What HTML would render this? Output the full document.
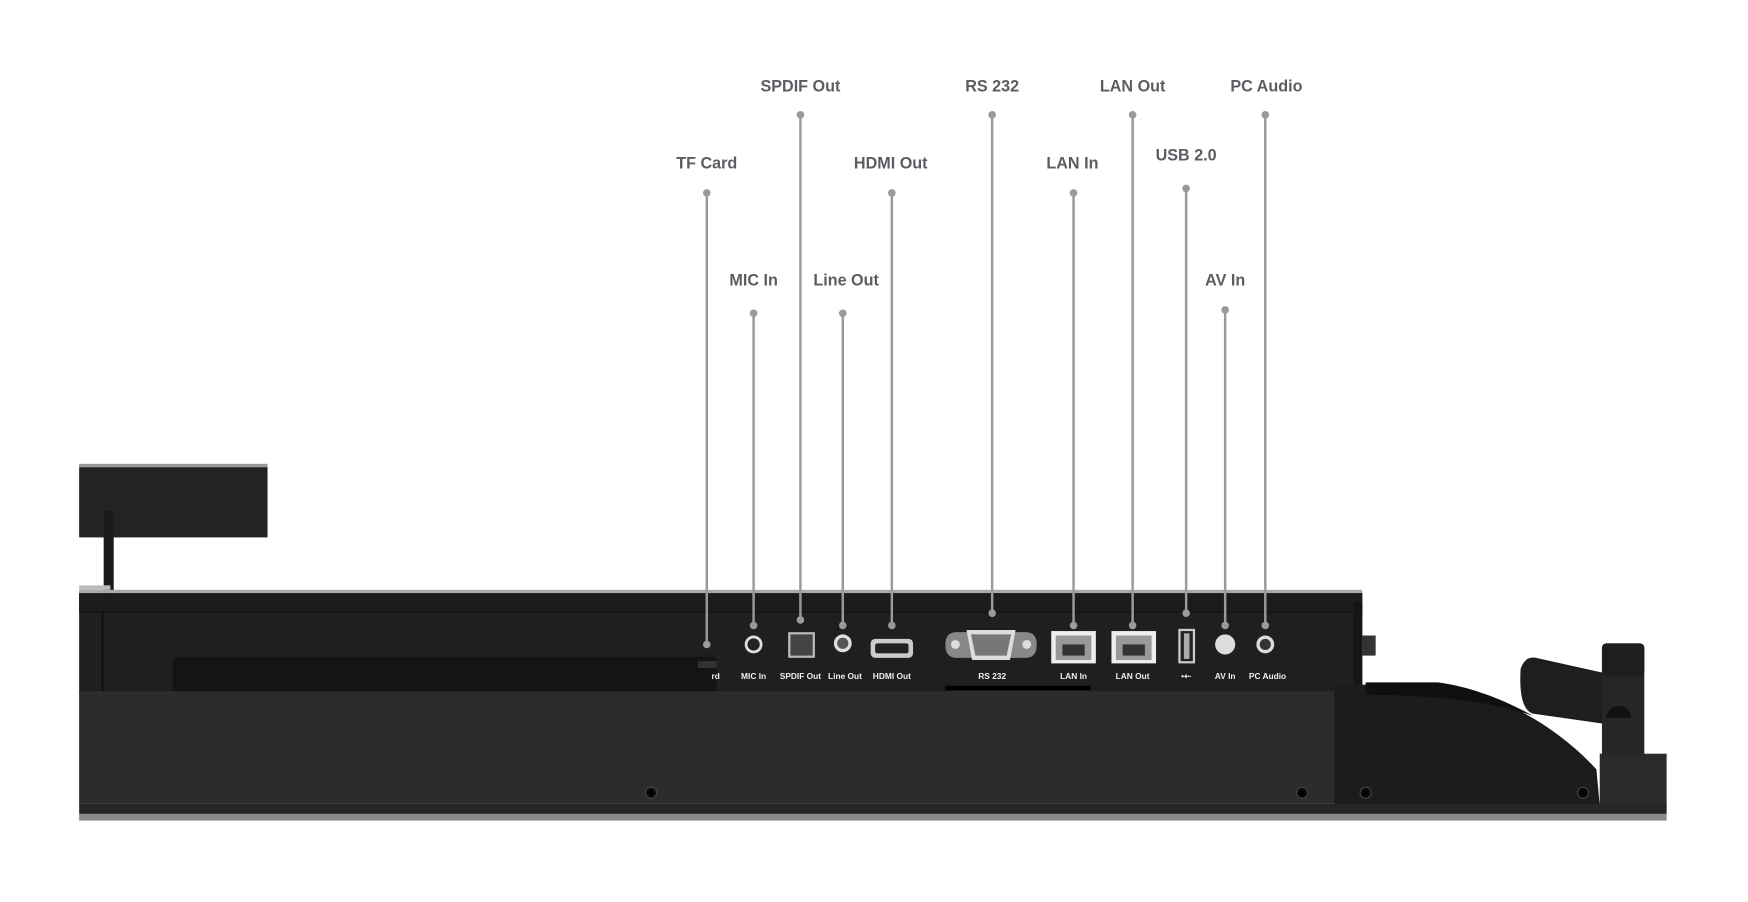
<!DOCTYPE html>
<html><head><meta charset="utf-8"><style>
html,body{margin:0;padding:0;background:#fff;width:1748px;height:902px;overflow:hidden}
svg{display:block}
.lb{font-family:"Liberation Sans",sans-serif;font-weight:bold;font-size:14.5px;fill:#5c5c62;text-anchor:middle}
.pl{font-family:"Liberation Sans",sans-serif;font-weight:bold;font-size:7.5px;fill:#eee;text-anchor:middle}
.ln{stroke:#9a9a9a;stroke-width:2.2}
.dt{fill:#9a9a9a}
</style></head><body>
<svg width="1748" height="902" viewBox="0 0 1568 809" preserveAspectRatio="none" xmlns="http://www.w3.org/2000/svg">
<rect x="71" y="416" width="169" height="3" fill="#999"/>
<rect x="71" y="419" width="169" height="63" fill="#232323"/>
<rect x="93" y="458" width="9" height="74" fill="#1a1a1a"/>
<rect x="71" y="525" width="28" height="4" fill="#bbb"/>
<rect x="71" y="529" width="1151" height="3" fill="#aaa"/>
<rect x="71" y="532" width="1151" height="90" fill="#1f1f1f"/>
<rect x="71" y="532" width="1151" height="17" fill="#1c1c1c"/>
<line x1="71" y1="549" x2="1222" y2="549" stroke="#111" stroke-width="1"/>
<line x1="92" y1="549" x2="92" y2="620" stroke="#0c0c0c" stroke-width="1.5"/>
<rect x="155" y="589" width="488" height="32" rx="3" fill="#141414"/>
<rect x="848" y="615" width="130" height="4" fill="#000"/>
<rect x="1214" y="540" width="8" height="80" fill="#151515"/>
<rect x="1222" y="570" width="12" height="18" fill="#333"/>
<rect x="71" y="620" width="1130" height="101" fill="#2c2c2c"/>
<!-- stand arm (behind) -->
<path d="M1364 600 Q1368 588 1378 590 L1445 605 L1445 650 L1375 640 Q1362 636 1364 600 Z" fill="#1e1e1e"/>
<!-- right housing -->
<path d="M1197 614 L1290 614 C1345 622 1395 650 1432 690 L1435 722 L1197 722 Z" fill="#1c1c1c"/>
<path d="M1225 612 L1290 612 C1320 616 1350 628 1375 642 C1340 630 1300 624 1225 623 Z" fill="#0f0f0f"/>
<rect x="1437" y="577" width="38" height="108" rx="4" fill="#262626"/>
<rect x="1437" y="577" width="38" height="30" rx="4" fill="#1e1e1e"/>
<path d="M1441 644 A11 11 0 0 1 1463 644 Z" fill="#111"/>
<rect x="1435" y="676" width="60" height="47" fill="#2a2a2a"/>
<rect x="71" y="721" width="1424" height="9" fill="#252525"/>
<rect x="71" y="730" width="1424" height="6" fill="#8a8a8a"/>
<g fill="#0a0a0a" stroke="#444" stroke-width="1">
<circle cx="584" cy="711" r="5"/><circle cx="1168" cy="711" r="5"/><circle cx="1225" cy="711" r="5"/><circle cx="1420" cy="711" r="5"/>
</g>
<g fill="#000"><circle cx="584" cy="711" r="2"/><circle cx="1168" cy="711" r="2"/><circle cx="1225" cy="711" r="2"/><circle cx="1420" cy="711" r="2"/></g>
<circle cx="676" cy="578" r="8" fill="#ddd"/><circle cx="676" cy="578" r="5.5" fill="#222"/>
<rect x="707" y="567" width="24" height="23" fill="#bbb"/><rect x="709" y="569" width="20" height="19" fill="#444"/>
<circle cx="756" cy="577" r="8" fill="#ddd"/><circle cx="756" cy="577" r="5" fill="#555"/>
<rect x="781" y="573" width="38" height="17" rx="4" fill="#ccc"/><rect x="785" y="577" width="30" height="9" rx="2" fill="#222"/>
<path d="M858 567 L920 567 Q930 567 930 578 Q930 590 920 590 L858 590 Q848 590 848 578 Q848 567 858 567Z" fill="#888"/>
<circle cx="857" cy="578" r="4" fill="#ddd"/><circle cx="921" cy="578" r="4" fill="#ddd"/>
<path d="M867 565 L911 565 L906 592 L872 592 Z" fill="#ddd"/>
<path d="M871 569 L907 569 L903 588 L875 588 Z" fill="#777"/>
<rect x="943" y="566" width="40" height="29" fill="#eee"/><rect x="947" y="570" width="32" height="22" fill="#999"/><rect x="953" y="578" width="20" height="10" fill="#333"/>
<rect x="997" y="566" width="40" height="29" fill="#eee"/><rect x="1001" y="570" width="32" height="22" fill="#999"/><rect x="1007" y="578" width="20" height="10" fill="#333"/>
<rect x="1057" y="564" width="15" height="31" fill="#ccc"/><rect x="1059" y="566" width="11" height="27" fill="#222"/><rect x="1062" y="568" width="5" height="23" fill="#aaa"/>
<circle cx="1099" cy="578" r="9" fill="#ddd"/>
<circle cx="1135" cy="578" r="8" fill="#ddd"/><circle cx="1135" cy="578" r="5" fill="#333"/>
<rect x="626" y="593" width="17" height="6" fill="#333"/>
<text class="pl" x="642" y="609">rd</text>
<text class="pl" x="676" y="609">MIC In</text>
<text class="pl" x="718" y="609">SPDIF Out</text>
<text class="pl" x="758" y="609">Line Out</text>
<text class="pl" x="800" y="609">HDMI Out</text>
<text class="pl" x="890" y="609">RS 232</text>
<text class="pl" x="963" y="609">LAN In</text>
<text class="pl" x="1016" y="609">LAN Out</text>
<text class="pl" x="1064" y="609">•⇠</text>
<text class="pl" x="1099" y="609">AV In</text>
<text class="pl" x="1137" y="609">PC Audio</text>
<g>
<line class="ln" x1="634" y1="173" x2="634" y2="578"/><circle class="dt" cx="634" cy="173" r="3.4"/><circle class="dt" cx="634" cy="578" r="3.4"/>
<line class="ln" x1="676" y1="281" x2="676" y2="561"/><circle class="dt" cx="676" cy="281" r="3.4"/><circle class="dt" cx="676" cy="561" r="3.4"/>
<line class="ln" x1="718" y1="103" x2="718" y2="556"/><circle class="dt" cx="718" cy="103" r="3.4"/><circle class="dt" cx="718" cy="556" r="3.4"/>
<line class="ln" x1="756" y1="281" x2="756" y2="561"/><circle class="dt" cx="756" cy="281" r="3.4"/><circle class="dt" cx="756" cy="561" r="3.4"/>
<line class="ln" x1="800" y1="173" x2="800" y2="561"/><circle class="dt" cx="800" cy="173" r="3.4"/><circle class="dt" cx="800" cy="561" r="3.4"/>
<line class="ln" x1="890" y1="103" x2="890" y2="550"/><circle class="dt" cx="890" cy="103" r="3.4"/><circle class="dt" cx="890" cy="550" r="3.4"/>
<line class="ln" x1="963" y1="173" x2="963" y2="561"/><circle class="dt" cx="963" cy="173" r="3.4"/><circle class="dt" cx="963" cy="561" r="3.4"/>
<line class="ln" x1="1016" y1="103" x2="1016" y2="561"/><circle class="dt" cx="1016" cy="103" r="3.4"/><circle class="dt" cx="1016" cy="561" r="3.4"/>
<line class="ln" x1="1064" y1="169" x2="1064" y2="550"/><circle class="dt" cx="1064" cy="169" r="3.4"/><circle class="dt" cx="1064" cy="550" r="3.4"/>
<line class="ln" x1="1099" y1="278" x2="1099" y2="561"/><circle class="dt" cx="1099" cy="278" r="3.4"/><circle class="dt" cx="1099" cy="561" r="3.4"/>
<line class="ln" x1="1135" y1="103" x2="1135" y2="561"/><circle class="dt" cx="1135" cy="103" r="3.4"/><circle class="dt" cx="1135" cy="561" r="3.4"/>
</g>
<text class="lb" x="634" y="151">TF Card</text>
<text class="lb" x="676" y="256">MIC In</text>
<text class="lb" x="718" y="82">SPDIF Out</text>
<text class="lb" x="759" y="256">Line Out</text>
<text class="lb" x="799" y="151">HDMI Out</text>
<text class="lb" x="890" y="82">RS 232</text>
<text class="lb" x="962" y="151">LAN In</text>
<text class="lb" x="1016" y="82">LAN Out</text>
<text class="lb" x="1064" y="144">USB 2.0</text>
<text class="lb" x="1099" y="256">AV In</text>
<text class="lb" x="1136" y="82">PC Audio</text>
</svg>
</body></html>
